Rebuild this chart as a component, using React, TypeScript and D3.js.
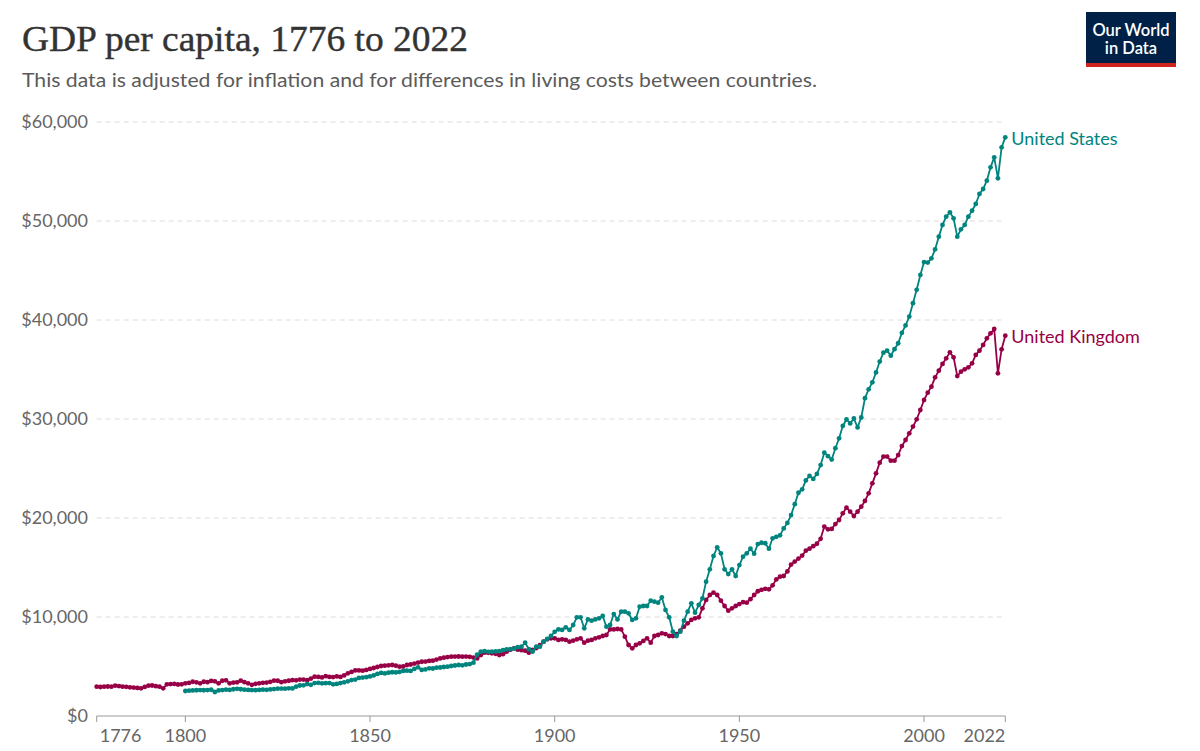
import React from "react";
import * as d3 from "d3";

// ---------- DATA ----------
const ukStartYear = 1776;
const usStartYear = 1800;
const endYear = 2022;

// United Kingdom GDP per capita (int.-$), 1776..2022
const ukGdp: number[] = [
  // 1776-1785
  2963, 2930, 2960, 2980, 2960, 3060, 3020, 2960, 2950, 2900,
  // 1786-1795
  2870, 2840, 2800, 2940, 3060, 3080, 3010, 2960, 2800, 3200,
  // 1796-1805
  3220, 3240, 3180, 3200, 3300, 3340, 3460, 3400, 3300, 3460,
  // 1806-1815
  3420, 3540, 3500, 3300, 3560, 3600, 3300, 3380, 3400, 3570,
  // 1816-1825
  3420, 3300, 3150, 3250, 3300, 3350, 3380, 3450, 3570, 3560,
  // 1826-1835
  3420, 3500, 3560, 3620, 3600, 3680, 3680, 3620, 3780, 3970,
  // 1836-1845
  3950, 3900, 4020, 3950, 3930, 4000, 3950, 4100, 4310, 4450,
  // 1846-1855
  4600, 4600, 4580, 4650, 4750, 4850, 4950, 5050, 5080, 5120,
  // 1856-1865
  5150, 5080, 4980, 5000, 5150, 5200, 5300, 5400, 5480, 5500,
  // 1866-1875
  5560, 5590, 5700, 5820, 5890, 5950, 5990, 6000, 6010, 5990,
  // 1876-1885
  6000, 5980, 5900, 5820, 6150, 6400, 6390, 6330, 6280, 6160,
  // 1886-1895
  6250, 6500, 6700, 6840, 6700, 6650, 6600, 6400, 6670, 6850,
  // 1896-1905
  7150, 7510, 7740, 7850, 7850, 7680, 7740, 7680, 7510, 7610,
  // 1906-1915
  7740, 7850, 7410, 7610, 7680, 7850, 7950, 8080, 8180, 8750,
  // 1916-1925
  8750, 8790, 8750, 8010, 7170, 6840, 7170, 7340, 7580, 7850,
  // 1926-1935
  7410, 8080, 8180, 8350, 8280, 8080, 8080, 8280, 8620, 9020,
  // 1936-1945
  9360, 9700, 9870, 9970, 10880, 11720, 12220, 12460, 12220, 11650,
  // 1946-1955
  11110, 10640, 10880, 11110, 11310, 11500, 11450, 11800, 12220, 12600,
  // 1956-1965
  12750, 12850, 12800, 13200, 13800, 14070, 14140, 14600, 15300, 15600,
  // 1966-1975
  15900, 16200, 16700, 16900, 17150, 17400, 17900, 19130, 18860, 18900,
  // 1976-1985
  19390, 19800, 20470, 21040, 20640, 20200, 20640, 21140, 21720, 22490,
  // 1986-1995
  23500, 24510, 25590, 26200, 26200, 25790, 25790, 26360, 27270, 27880,
  // 1996-2005
  28550, 29230, 29970, 30910, 31920, 32660, 33270, 34210, 34880, 35560,
  // 2006-2015
  36130, 36730, 36230, 34340, 34780, 35020, 35220, 35620, 36470, 36900,
  // 2016-2022
  37480, 38150, 38650, 39090, 34610, 37040, 38420,
];

// United States GDP per capita (int.-$), 1800..2022
const usGdp: number[] = [
  // 1800-1809
  2525, 2560, 2580, 2600, 2620, 2600, 2620, 2650, 2424, 2580,
  // 1810-1819
  2620, 2660, 2630, 2700, 2750, 2700, 2660, 2630, 2620, 2610,
  // 1820-1829
  2630, 2660, 2640, 2680, 2720, 2760, 2770, 2760, 2800, 2790,
  // 1830-1839
  2960, 3080, 3100, 3230, 3150, 3330, 3350, 3300, 3320, 3330,
  // 1840-1849
  3200, 3240, 3330, 3400, 3500, 3630, 3680, 3850, 3880, 3920,
  // 1850-1859
  4000, 4100, 4250, 4350, 4300, 4380, 4420, 4400, 4450, 4550,
  // 1860-1869
  4580, 4550, 4750, 4920, 4650, 4700, 4820, 4800, 4880, 4900,
  // 1870-1879
  4950, 4980, 5050, 5100, 5150, 5120, 5200, 5250, 5390, 6200,
  // 1880-1889
  6500, 6560, 6480, 6500, 6520, 6560, 6650, 6730, 6750, 6800,
  // 1890-1899
  6950, 7000, 7400, 6750, 6500, 7000, 7000, 7500, 7800, 8080,
  // 1900-1909
  8500, 8750, 8690, 8960, 8690, 9190, 9970, 9970, 8860, 9760,
  // 1910-1919
  9630, 9760, 9870, 10100, 9020, 9190, 10300, 9760, 10540, 10540,
  // 1920-1929
  10370, 9700, 9870, 11040, 11110, 11110, 11650, 11550, 11450, 11990,
  // 1930-1939
  10710, 9970, 8520, 8080, 8520, 9630, 10540, 11380, 10440, 11210,
  // 1940-1949
  11890, 13570, 14820, 16160, 17040, 16430, 14820, 14340, 14820, 14140,
  // 1950-1959
  15250, 16090, 16430, 16900, 16400, 17370, 17500, 17450, 16900, 17950,
  // 1960-1969
  18100, 18250, 18950, 19500, 20300, 21400, 22550, 22900, 23800, 24250,
  // 1970-1979
  23950, 24450, 25350, 26600, 26250, 25900, 27050, 28050, 29300, 29950,
  // 1980-1989
  29550, 30050, 29150, 30150, 32100, 33000, 33700, 34700, 35800, 36700,
  // 1990-1999
  36900, 36400, 37050, 37650, 38700, 39450, 40350, 41700, 43050, 44550,
  // 2000-2009
  45850, 45800, 46230, 47140, 48420, 49600, 50440, 50880, 50270, 48420,
  // 2010-2019
  49160, 49600, 50440, 51040, 51720, 52730, 53230, 54070, 55420, 56430,
  // 2020-2022
  54310, 57440, 58450,
];

const yTicks = [0, 10000, 20000, 30000, 40000, 50000, 60000];
const xTicks = [1776, 1800, 1850, 1900, 1950, 2000, 2022];

const title = "GDP per capita, 1776 to 2022";
const subtitle =
  "This data is adjusted for inflation and for differences in living costs between countries.";

type Series = { name: string; color: string; start: number; values: number[] };
const seriesList: Series[] = [
  { name: "United Kingdom", color: "#970046", start: ukStartYear, values: ukGdp },
  { name: "United States", color: "#00847e", start: usStartYear, values: usGdp },
];

// ---------- CHART ----------
const W = 1200;
const H = 751;
const FONT = "Lato, 'Noto Sans', sans-serif";

export default function App() {
  const x = d3.scaleLinear().domain([ukStartYear, endYear]).range([96.7, 1005.3]);
  const y = d3.scaleLinear().domain([0, 60000]).range([716, 122]);

  const line = d3
    .line<[number, number]>()
    .x((d) => x(d[0]))
    .y((d) => y(d[1]));

  const fmt = (v: number) => "$" + d3.format(",")(v);

  return (
    <svg
      width={W}
      height={H}
      viewBox={`0 0 ${W} ${H}`}
      style={{ position: "absolute", left: 0, top: 0, background: "#fff" }}
    >
      <rect x={0} y={0} width={W} height={H} fill="#fff" />
      {/* Title */}
      <text
        x={22}
        y={51}
        fontFamily="'Liberation Serif', 'DejaVu Serif', serif"
        fontSize={36}
        fill="#333"
        stroke="#333"
        strokeWidth={0.4}
        textLength={446}
        lengthAdjust="spacingAndGlyphs"
      >
        {title}
      </text>
      <text
        x={22}
        y={87}
        fontFamily={FONT}
        fontSize={18.5}
        fill="#5b5b5b"
        textLength={795}
        lengthAdjust="spacingAndGlyphs"
      >
        {subtitle}
      </text>

      {/* Logo */}
      <g>
        <rect x={1086} y={12} width={90} height={55} fill="#002147" />
        <rect x={1086} y={63} width={90} height={4} fill="#ce261e" />
        <text x={1131} y={36} textAnchor="middle" fontFamily={FONT} fontSize={16.5} fontWeight={600} fill="#fff">
          Our World
        </text>
        <text x={1131} y={54} textAnchor="middle" fontFamily={FONT} fontSize={16.5} fontWeight={600} fill="#fff">
          in Data
        </text>
      </g>

      {/* Y grid + labels */}
      {yTicks.map((t) => (
        <g key={t}>
          {t > 0 && (
            <line
              x1={x(ukStartYear)}
              x2={x(endYear)}
              y1={y(t)}
              y2={y(t)}
              stroke="#dcdcdc"
              strokeDasharray="5,4"
              strokeWidth={1}
            />
          )}
          <text
            x={88}
            y={y(t)}
            dy="0.35em"
            textAnchor="end"
            fontFamily={FONT}
            fontSize={18}
            fill="#666"
          >
            {fmt(t)}
          </text>
        </g>
      ))}

      {/* X axis */}
      <line x1={x(ukStartYear)} x2={x(endYear)} y1={y(0)} y2={y(0)} stroke="#999" strokeWidth={1} />
      {xTicks.map((t, i) => (
        <g key={t}>
          <line x1={x(t)} x2={x(t)} y1={y(0)} y2={y(0) + 6} stroke="#999" strokeWidth={1} />
          <text
            x={i === 0 ? x(t) + 3 : x(t)}
            y={742}
            textAnchor={i === 0 ? "start" : i === xTicks.length - 1 ? "end" : "middle"}
            fontFamily={FONT}
            fontSize={18}
            fill="#666"
          >
            {t}
          </text>
        </g>
      ))}

      {/* Lines */}
      {seriesList.map((s) => {
        const pts: [number, number][] = s.values.map((v, i) => [s.start + i, v]);
        const last = pts[pts.length - 1];
        return (
          <g key={s.name}>
            <path d={line(pts) || ""} fill="none" stroke={s.color} strokeWidth={1.8} strokeLinejoin="round" />
            {pts.map((p) => (
              <circle key={p[0]} cx={x(p[0])} cy={y(p[1])} r={2.4} fill={s.color} />
            ))}
            <text
              x={x(last[0]) + 6}
              y={y(last[1]) + 1.5}
              dy="0.35em"
              fontFamily={FONT}
              fontSize={18}
              fill={s.color}
            >
              {s.name}
            </text>
          </g>
        );
      })}
    </svg>
  );
}
